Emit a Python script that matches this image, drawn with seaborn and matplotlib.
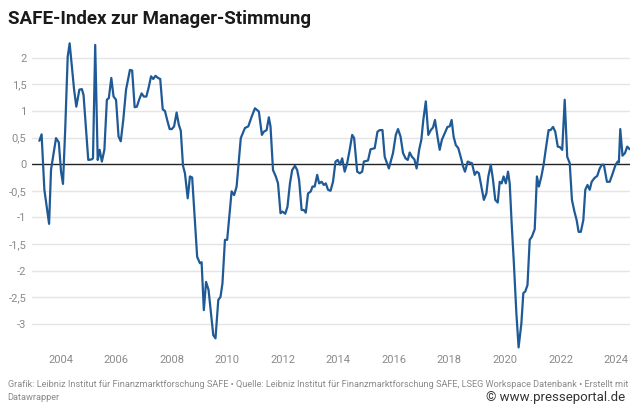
import pandas as pd
import numpy as np
import matplotlib.pyplot as plt
import seaborn as sns

sns.set_style('white')
plt.rcParams['font.family'] = ['Roboto', 'DejaVu Sans']

#SAFE index, values (decimal year, index value)
years = [2003.24, 2003.32, 2003.42, 2003.59, 2003.66, 2003.84, 2003.94, 2004.02, 2004.09, 2004.17,
         2004.26, 2004.33, 2004.49, 2004.57, 2004.68, 2004.77, 2004.83, 2004.92, 2005.00, 2005.12,
         2005.17, 2005.25, 2005.34, 2005.41, 2005.49, 2005.58, 2005.67, 2005.74, 2005.83, 2005.91,
         2006.00, 2006.09, 2006.17, 2006.26, 2006.36, 2006.50, 2006.58, 2006.67, 2006.75, 2006.83,
         2006.92, 2007.00, 2007.09, 2007.17, 2007.26, 2007.34, 2007.42, 2007.51, 2007.59, 2007.68,
         2007.76, 2007.84, 2007.93, 2008.01, 2008.09, 2008.18, 2008.26, 2008.33, 2008.41, 2008.48,
         2008.58, 2008.66, 2008.74, 2008.92, 2009.02, 2009.08, 2009.16, 2009.24, 2009.33, 2009.50,
         2009.58, 2009.68, 2009.76, 2009.83, 2009.92, 2010.00, 2010.16, 2010.25, 2010.34, 2010.49,
         2010.64, 2010.76, 2010.88, 2011.00, 2011.14, 2011.25, 2011.32, 2011.42, 2011.50, 2011.56,
         2011.65, 2011.75, 2011.83, 2011.92, 2011.99, 2012.09, 2012.17, 2012.26, 2012.34, 2012.44,
         2012.52, 2012.59, 2012.68, 2012.76, 2012.83, 2012.91, 2013.01, 2013.07, 2013.15, 2013.24,
         2013.31, 2013.40, 2013.48, 2013.55, 2013.63, 2013.72, 2013.81, 2013.90, 2013.98, 2014.06,
         2014.14, 2014.23, 2014.32, 2014.41, 2014.50, 2014.57, 2014.68, 2014.77, 2014.86, 2014.92,
         2015.07, 2015.16, 2015.31, 2015.41, 2015.49, 2015.59, 2015.67, 2015.82, 2015.97, 2016.07,
         2016.15, 2016.24, 2016.33, 2016.42, 2016.50, 2016.57, 2016.65, 2016.74, 2016.82, 2016.91,
         2016.99, 2017.06, 2017.15, 2017.24, 2017.33, 2017.41, 2017.48, 2017.57, 2017.65, 2017.73,
         2017.83, 2017.93, 2018.01, 2018.08, 2018.15, 2018.23, 2018.32, 2018.42, 2018.49, 2018.56,
         2018.66, 2018.73, 2018.81, 2018.91, 2018.98, 2019.06, 2019.15, 2019.24, 2019.33, 2019.40,
         2019.49, 2019.57, 2019.65, 2019.74, 2019.81, 2019.88, 2019.95, 2020.03, 2020.11, 2020.17,
         2020.24, 2020.32, 2020.41, 2020.49, 2020.59, 2020.66, 2020.73, 2020.81, 2020.89, 2020.97,
         2021.07, 2021.15, 2021.22, 2021.31, 2021.39, 2021.49, 2021.57, 2021.64, 2021.73, 2021.81,
         2021.90, 2021.98, 2022.06, 2022.15, 2022.24, 2022.33, 2022.41, 2022.50, 2022.58, 2022.65,
         2022.73, 2022.82, 2022.89, 2022.97, 2023.05, 2023.12, 2023.22, 2023.32, 2023.41, 2023.49,
         2023.56, 2023.67, 2023.77, 2023.86, 2023.98, 2024.06, 2024.10, 2024.15, 2024.23, 2024.32,
         2024.40, 2024.49]
index_values = [0.44, 0.56, -0.48, -1.12, -0.10, 0.49, 0.41, -0.14, -0.37, 0.65,
                2.02, 2.27, 1.40, 1.08, 1.40, 1.41, 1.30, 0.64, 0.08, 0.09,
                0.11, 2.24, 0.08, 0.27, 0.05, 0.27, 1.21, 1.24, 1.62, 1.27,
                1.21, 0.52, 0.43, 0.83, 1.40, 1.77, 1.76, 1.07, 1.08, 1.21,
                1.33, 1.27, 1.27, 1.43, 1.65, 1.60, 1.66, 1.62, 1.60, 1.03,
                1.00, 0.83, 0.66, 0.66, 0.71, 0.97, 0.74, 0.63, -0.03, -0.17,
                -0.64, -0.23, -0.25, -1.74, -1.86, -1.84, -2.74, -2.21, -2.36, -3.21,
                -3.27, -2.55, -2.49, -2.24, -1.42, -1.42, -0.51, -0.58, -0.42, 0.49,
                0.68, 0.71, 0.89, 1.05, 0.99, 0.55, 0.61, 0.64, 0.88, 0.71,
                -0.11, -0.23, -0.36, -0.92, -0.89, -0.93, -0.80, -0.36, -0.11, -0.03,
                -0.11, -0.30, -0.86, -0.86, -0.91, -0.55, -0.51, -0.42, -0.42, -0.20,
                -0.36, -0.33, -0.39, -0.36, -0.48, -0.50, -0.33, 0.05, 0.08, -0.01,
                0.11, -0.14, 0.02, 0.27, 0.55, 0.49, -0.14, -0.17, -0.14, 0.05,
                0.07, 0.28, 0.30, 0.61, 0.64, 0.64, 0.14, -0.08, 0.21, 0.55,
                0.66, 0.52, 0.21, 0.11, 0.08, 0.22, 0.14, 0.09, -0.08, 0.27,
                0.46, 0.83, 1.18, 0.55, 0.64, 0.69, 0.83, 0.52, 0.27, 0.46,
                0.58, 0.70, 0.71, 0.83, 0.52, 0.36, 0.30, 0.11, -0.04, -0.14,
                0.05, 0.03, 0.02, -0.20, -0.14, -0.17, -0.42, -0.67, -0.55, -0.23,
                -0.01, -0.30, -0.67, -0.72, -0.33, -0.36, -0.23, -0.36, -0.14, -0.36,
                -1.11, -1.86, -2.80, -3.44, -2.99, -2.42, -2.39, -2.27, -1.42, -1.36,
                -1.22, -0.23, -0.42, -0.23, -0.01, 0.36, 0.64, 0.64, 0.70, 0.61,
                0.33, 0.32, 0.27, 1.21, 0.14, 0.02, -0.67, -0.89, -1.05, -1.27,
                -1.27, -1.05, -0.48, -0.39, -0.48, -0.33, -0.26, -0.22, -0.08, -0.01,
                -0.01, -0.33, -0.33, -0.20, -0.01, 0.05, 0.03, 0.66, 0.16, 0.21,
                0.33, 0.28]

y_ticks = [2, 1.5, 1, 0.5, 0, -0.5, -1, -1.5, -2, -2.5, -3]
x_ticks = [2004, 2006, 2008, 2010, 2012, 2014, 2016, 2018, 2020, 2022, 2024]

df = pd.DataFrame({'year': years, 'safe': index_values})

fig = plt.figure(figsize=(6.3, 4.12), dpi=100)
ax = fig.add_axes([0.0508, 0.149, 0.9492, 0.764])

#gridlines first, the series on top
for t in y_ticks:
    if t != 0:
        ax.axhline(t, color='#e5e5e5', lw=1, zorder=0)
ax.axhline(0, color='#222222', lw=1, zorder=1)

sns.lineplot(data=df, x='year', y='safe', ax=ax, color='#1f5a96', lw=1.6,
             estimator=None, sort=False, zorder=3)

ax.set_xlim(2002.975, 2024.5)
ax.set_ylim(-3.5, 2.41)
ax.set_xticks(x_ticks)
ax.set_xticklabels([str(x) for x in x_ticks])
ax.set_yticks(y_ticks)
ax.set_yticklabels([('%g' % t).replace('.', ',') for t in y_ticks])
ax.tick_params(axis='both', length=0, labelsize=8, colors='#8a8a8a')
ax.tick_params(axis='x', pad=3)
ax.tick_params(axis='y', pad=4)
ax.set_xlabel('')
ax.set_ylabel('')
sns.despine(ax=ax, left=True, bottom=True)

fig.text(0.012, 0.955, 'SAFE-Index zur Manager-Stimmung', fontsize=13.5, fontweight='bold',
         color='#1a1a1a', va='center', ha='left')
fig.text(0.012, 0.066, 'Grafik: Leibniz Institut für Finanzmarktforschung SAFE • Quelle: Leibniz Institut für '
         'Finanzmarktforschung SAFE, LSEG Workspace Datenbank • Erstellt mit', fontsize=6.6,
         color='#8a8a8a', va='center', ha='left')
fig.text(0.012, 0.034, 'Datawrapper', fontsize=6.6, color='#8a8a8a', va='center', ha='left')
fig.text(0.993, 0.034, '© www.presseportal.de', fontsize=9.5, color='#333333',
         va='center', ha='right', bbox=dict(facecolor='white', edgecolor='none', pad=0.5))

fig.savefig('out.png', dpi=100)
